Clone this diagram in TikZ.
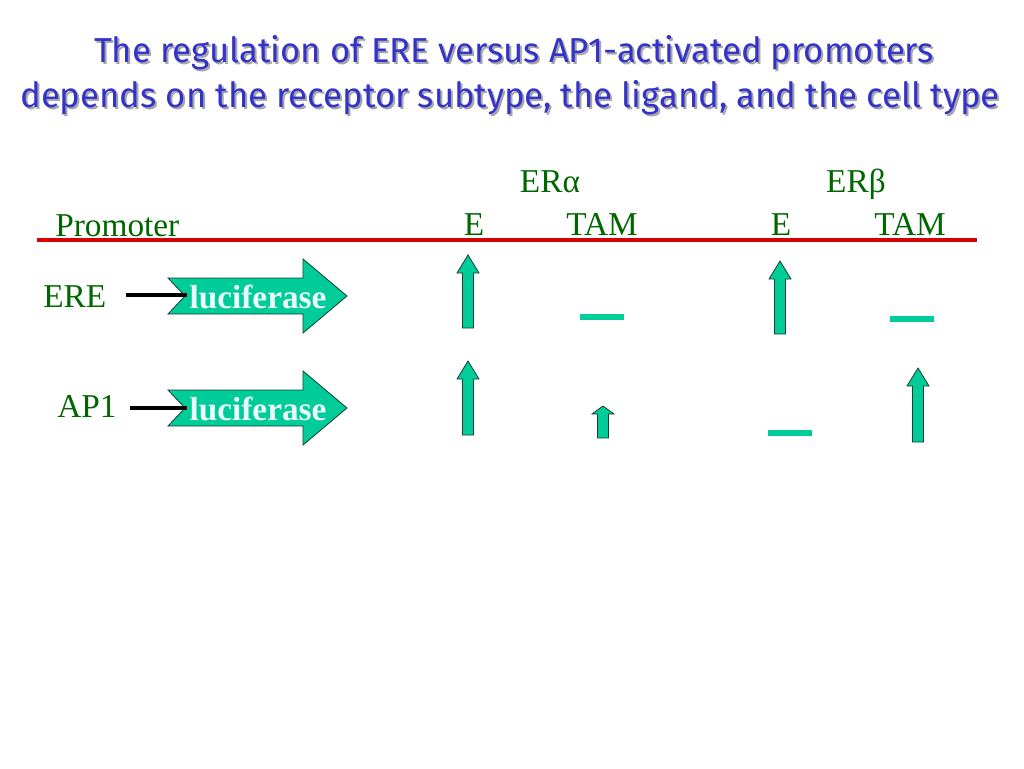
\documentclass[tikz,border=0pt]{standalone}
\usepackage{fontspec}
\setmainfont{Liberation Serif}
\newfontfamily\titlefont{Fira Sans}
\usepackage{tikz}
\usetikzlibrary{positioning}
\definecolor{titleblue}{RGB}{51,51,204}
\definecolor{labelgreen}{RGB}{0,102,0}
\definecolor{teal}{RGB}{0,204,153}
\definecolor{tealedge}{RGB}{26,61,51}
\definecolor{barred}{RGB}{210,0,0}
\tikzstyle{label}=[text=labelgreen, font=\fontsize{25}{30}\selectfont, inner sep=0pt]
\tikzstyle{titleline}=[text=titleblue, font=\titlefont\fontsize{26}{30}\selectfont, inner sep=0pt]
\tikzstyle{shadow}=[text=black!35, font=\titlefont\fontsize{26}{30}\selectfont, inner sep=0pt]
\tikzstyle{blockarrow}=[fill=teal, draw=tealedge, line width=.6pt]
\tikzstyle{nochange}=[fill=teal, draw=none]
\tikzstyle{lucitext}=[text=white!92!teal, font=\bfseries\fontsize{25}{30}\selectfont, inner sep=0pt]

\begin{document}
\begin{tikzpicture}[x=0.75pt, y=-0.75pt]
    \useasboundingbox (0,0) rectangle (1024,768);
    % title with its shadow
    \node[shadow, anchor=base] at (516,64) {The regulation of ERE versus AP1-activated promoters};
    \node[shadow, anchor=base] at (512,109) {depends on the receptor subtype, the ligand, and the cell type};
    \node[titleline, anchor=base] (title1) at (514,62) {The regulation of ERE versus AP1-activated promoters};
    \node[titleline, anchor=base] (title2) at (510,107) {depends on the receptor subtype, the ligand, and the cell type};
    % table head
    \node[label, anchor=base] (era) at (550,192) {ERα};
    \node[label, anchor=base] (erb) at (856,192) {ERβ};
    \node[label, anchor=base west] (promoter) at (55,236) {Promoter};
    \node[label, anchor=base] (e1) at (474,235) {E};
    \node[label, anchor=base] (tam1) at (602,235) {TAM};
    \node[label, anchor=base] (e2) at (781,235) {E};
    \node[label, anchor=base] (tam2) at (910,235) {TAM};
    \coordinate (redL) at (37,240);
    \coordinate (redR) at (977,240);
    \draw[barred, line width=3pt] (redL) -- (redR);
    % reporter constructs
    \node[label, anchor=base west] (ere) at (43,307) {ERE};
    \node[label, anchor=base west] (ap1) at (57,417) {AP1};
    \foreach \n/\y in {1/296, 2/408} {
      \draw[blockarrow] (168,\y-18) -- (303,\y-18) -- (303,\y-37) -- (347,\y)
        -- (303,\y+37) -- (303,\y+18) -- (168,\y+18) -- (185,\y) -- cycle;
      \coordinate (notch\n) at (187,\y);
      \node[lucitext, anchor=base] (luc\n) at (258,\y+12) {luciferase};
    }
    \coordinate (ereline) at (126,295);
    \coordinate (apline) at (130,408);
    \draw[line width=3pt] (ereline) -- (notch1 |- ereline);
    \draw[line width=3pt] (apline) -- (notch2 |- apline);
    % results: up arrows (x, tip, bottom, head length)
    \foreach \cx/\ty/\by/\hh in {468/255/328/18, 780/261/334/18, 468/361/435/18,
                                 603/406/438/8, 918/368/442/18}
      \draw[blockarrow] (\cx-5.5,\by) -- (\cx-5.5,\ty+\hh) -- (\cx-11,\ty+\hh)
        -- (\cx,\ty) -- (\cx+11,\ty+\hh) -- (\cx+5.5,\ty+\hh) -- (\cx+5.5,\by) -- cycle;
    % results: no change
    \foreach \cx/\cy in {602/317, 912/319, 790/433}
      \fill[nochange] (\cx-22,\cy-3.2) rectangle (\cx+22,\cy+3.2);
\end{tikzpicture}
\end{document}
